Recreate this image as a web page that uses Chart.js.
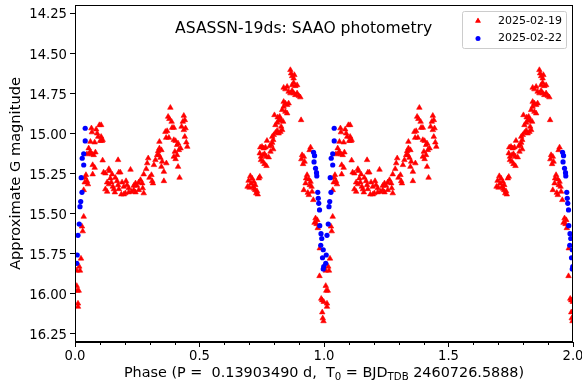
<!DOCTYPE html>
<html><head><meta charset="utf-8">
<script src="https://cdn.jsdelivr.net/npm/chart.js@4"></script>
<style>html,body{margin:0;padding:0;background:#fff;}canvas{display:block;}</style>
</head><body>
<canvas id="c" width="582" height="381"></canvas>
<script>
// Observations: [phase, approximate G magnitude]; each is plotted at phase and phase+1
const obs20250219 = [
 [0.035,15.519],[0.028,15.58],[0.031,15.61],[0.024,15.78],[0.017,15.83],[0.020,15.855],[0.007,15.855],[0.007,15.95],[0.015,15.98],[0.009,15.98],[0.012,16.06],[0.012,16.08],
 [0.066,14.968],[0.068,14.993],[0.085,14.975],[0.089,15.000],[0.098,14.948],[0.105,14.948],[0.093,15.021],[0.101,15.047],[0.105,15.021],[0.111,15.041],[0.108,15.047],[0.079,15.056],[0.062,15.052],[0.055,15.093],[0.062,15.114],[0.068,15.130],[0.075,15.135],[0.082,15.118],[0.048,15.130],[0.058,15.124],[0.111,15.168],[0.071,15.197],[0.079,15.214],[0.071,15.255],[0.044,15.259],[0.041,15.276],[0.048,15.297],[0.039,15.305],[0.052,15.317],[0.035,15.353],
 [0.115,15.243],[0.122,15.249],[0.136,15.222],[0.138,15.234],[0.149,15.255],[0.129,15.305],[0.136,15.317],[0.122,15.348],[0.129,15.363],[0.142,15.280],[0.146,15.305],[0.152,15.332],[0.156,15.348],[0.160,15.367],[0.162,15.276],[0.173,15.166],[0.176,15.243],[0.182,15.243],[0.169,15.297],[0.173,15.322],[0.176,15.347],[0.189,15.305],[0.196,15.332],[0.186,15.380],[0.196,15.380],[0.202,15.373],[0.205,15.297],[0.209,15.322],[0.216,15.342],[0.223,15.226],[0.216,15.367],[0.227,15.363],[0.236,15.353],[0.243,15.367],[0.249,15.326],[0.256,15.305],[0.263,15.290],[0.270,15.311],[0.272,15.342],[0.276,15.373],[0.243,15.311],[0.236,15.326],[0.256,15.353],
 [0.276,15.255],[0.286,15.222],[0.290,15.186],[0.294,15.155],[0.299,15.276],[0.307,15.259],[0.310,15.297],[0.313,15.311],[0.317,15.197],[0.323,15.166],[0.330,15.135],[0.334,15.110],[0.339,15.093],[0.347,15.104],[0.339,15.052],[0.337,15.135],[0.343,15.152],[0.350,15.176],[0.347,15.208],[0.357,15.239],[0.367,15.186],[0.357,15.297],[0.363,14.990],[0.370,14.985],[0.366,15.027],[0.377,15.027],[0.374,14.896],[0.379,14.910],[0.388,14.927],[0.390,14.965],[0.397,14.965],[0.383,14.840],[0.397,15.041],[0.404,15.047],[0.414,15.062],[0.410,15.072],[0.401,15.114],[0.417,15.104],[0.424,15.093],[0.410,15.135],[0.404,15.160],[0.397,15.145],[0.414,15.208],[0.420,15.276],[0.437,14.890],[0.441,14.917],[0.433,14.927],[0.428,14.958],[0.437,14.979],[0.444,14.968],[0.441,15.021],[0.447,15.056],[0.451,15.083],
 [0.704,15.266],[0.711,15.280],[0.697,15.295],[0.707,15.311],[0.718,15.301],[0.724,15.322],[0.738,15.280],[0.742,15.270],[0.693,15.332],[0.701,15.338],[0.715,15.332],[0.724,15.353],[0.728,15.373],[0.734,15.380],[0.731,15.360],[0.720,15.345],
 [0.744,15.087],[0.751,15.083],[0.758,15.093],[0.765,15.087],[0.742,15.124],[0.747,15.145],[0.755,15.135],[0.761,15.128],[0.769,15.145],[0.778,15.149],[0.747,15.166],[0.755,15.176],[0.761,15.191],[0.769,15.203],[0.771,15.046],[0.782,15.079],[0.788,15.072],[0.792,15.058],[0.796,15.041],[0.785,15.114],[0.796,15.099],[0.792,15.021],[0.798,15.010],[0.805,14.996],[0.812,14.983],[0.818,15.000],[0.825,14.990],[0.832,14.979],[0.805,14.948],[0.812,14.933],[0.818,14.921],[0.828,14.958],[0.801,14.886],[0.814,14.900],[0.822,14.896],[0.828,14.917],[0.836,14.927],[0.832,14.854],[0.838,14.834],[0.845,14.865],[0.852,14.875],[0.838,14.803],[0.845,14.813],[0.852,14.823],[0.858,14.813],[0.908,14.917],[0.838,14.715],[0.852,14.709],[0.845,14.725],[0.858,14.740],[0.865,14.750],[0.872,14.734],[0.878,14.750],[0.885,14.761],[0.892,14.750],[0.899,14.767],[0.905,14.775],[0.872,14.699],[0.878,14.684],[0.885,14.705],[0.892,14.699],[0.865,14.605],[0.868,14.626],[0.872,14.643],[0.878,14.657],[0.881,14.636],
 [0.946,15.087],[0.942,15.104],[0.912,15.135],[0.919,15.145],[0.909,15.161],[0.922,15.176],[0.916,15.191],[0.932,15.259],[0.928,15.280],[0.939,15.286],[0.946,15.301],[0.926,15.311],[0.943,15.322],[0.950,15.332],[0.919,15.353],[0.935,15.370],[0.952,15.363],[0.939,15.384],[0.957,15.415],[0.966,15.529],[0.973,15.540],[0.962,15.557],[0.970,15.565],[0.975,15.590],[0.983,15.716],[0.982,15.889],[0.989,16.030],[0.993,16.040],[0.999,16.050],[0.993,16.115],[0.995,16.152],[0.998,16.170]
];
const obs20250222 = [
 [0.958,15.118],[0.962,15.139],[0.960,15.178],[0.966,15.218],[0.970,15.245],[0.971,15.265],[0.975,15.367],[0.977,15.405],[0.979,15.436],[0.982,15.477],[0.983,15.575],[0.988,15.625],[0.991,15.655],[0.987,15.697],[0.997,15.725],[0.994,15.775],[0.999,15.830],[0.997,15.845],
 [0.007,15.810],[0.009,15.758],[0.012,15.635],[0.017,15.565],[0.020,15.457],[0.023,15.425],[0.028,15.367],[0.025,15.276],[0.035,15.197],[0.029,15.155],[0.035,15.127],[0.041,15.047],[0.041,14.968]
];
const seriesLabels = ['2025-02-19','2025-02-22'];
const xTicks = [0.0,0.5,1.0,1.5,2.0];
const xMinorTicks = [0.1,0.2,0.3,0.4,0.6,0.7,0.8,0.9,1.1,1.2,1.3,1.4,1.6,1.7,1.8,1.9];
const yTicks = [14.25,14.5,14.75,15.0,15.25,15.5,15.75,16.0,16.25];
const titleText = 'ASASSN-19ds: SAAO photometry';
const yTitle = 'Approximate G magnitude';

const FONT = '"DejaVu Sans", sans-serif';
function fold(obs){
  return obs.map(([p,m])=>({x:p,y:m})).concat(obs.map(([p,m])=>({x:p+1,y:m})));
}

const deco = {
  id:'deco',
  afterDraw(chart){
    const ctx = chart.ctx, a = chart.chartArea, xs = chart.scales.x;
    ctx.save();
    // frame
    ctx.strokeStyle = '#000'; ctx.lineWidth = 1;
    ctx.strokeRect(Math.round(a.left)+0.5, Math.round(a.top)+0.5, Math.round(a.right-a.left)-1, Math.round(a.bottom-a.top)-1);
    // minor ticks
    ctx.beginPath();
    xMinorTicks.forEach(v=>{
      const px = Math.round(xs.getPixelForValue(v))+0.5;
      ctx.moveTo(px, a.bottom); ctx.lineTo(px, a.bottom+3);
    });
    ctx.stroke();
    ctx.fillStyle = '#000';
    // title
    ctx.font = '15.6px ' + FONT;
    ctx.textAlign = 'center'; ctx.textBaseline = 'middle';
    ctx.fillText(titleText, a.left + 0.459*(a.right-a.left), 29);
    // y title
    ctx.save();
    ctx.translate(16, (a.top+a.bottom)/2);
    ctx.rotate(-Math.PI/2);
    ctx.font = '14.6px ' + FONT;
    ctx.fillText(yTitle, 0, 0);
    ctx.restore();
    // x title with subscripts
    const parts = [
      ['Phase (P =  0.13903490 d,  T', false],
      ['0', true],
      [' = BJD', false],
      ['TDB', true],
      [' 2460726.5888)', false]
    ];
    const big = '14.4px ' + FONT, small = '10.2px ' + FONT;
    let w = 0;
    parts.forEach(([t,s])=>{ ctx.font = s?small:big; w += ctx.measureText(t).width; });
    let x = (a.left+a.right)/2 - w/2;
    const base = 376.5;
    ctx.textAlign = 'left'; ctx.textBaseline = 'alphabetic';
    parts.forEach(([t,s])=>{
      ctx.font = s?small:big;
      ctx.fillText(t, x, s ? base+3 : base);
      x += ctx.measureText(t).width;
    });
    // legend
    const lx = 462, ly = 11, lw = 104, lh = 37;
    ctx.fillStyle = 'rgba(255,255,255,0.8)';
    ctx.strokeStyle = '#cccccc';
    ctx.beginPath();
    ctx.roundRect(lx+0.5, ly+0.5, lw, lh, 2);
    ctx.fill(); ctx.stroke();
    ctx.fillStyle = '#ff0000';
    Chart.helpers.drawPoint(ctx, {pointStyle:'triangle', radius:3.2, rotation:0, borderWidth:0}, 478, 21);
    ctx.fill();
    ctx.fillStyle = '#0000ff';
    ctx.beginPath(); ctx.arc(478, 38.5, 2.5, 0, Math.PI*2); ctx.fill();
    ctx.fillStyle = '#000';
    ctx.font = '11px ' + FONT;
    ctx.textBaseline = 'middle';
    ctx.fillText(seriesLabels[0], 498, 21);
    ctx.fillText(seriesLabels[1], 498, 38.5);
    ctx.restore();
  }
};

new Chart(document.getElementById('c'), {
  type:'scatter',
  data:{datasets:[
    {label:seriesLabels[0], data:fold(obs20250219), pointStyle:'triangle', pointRadius:3.2, pointBorderWidth:0.6,
     backgroundColor:'#ff0000', borderColor:'#ff0000', order:2},
    {label:seriesLabels[1], data:fold(obs20250222), pointStyle:'circle', pointRadius:2.6, pointBorderWidth:0,
     backgroundColor:'#0000ff', borderColor:'#0000ff', order:1}
  ]},
  options:{
    responsive:false, animation:false, devicePixelRatio:1,
    layout:{padding:{left:0,right:9,top:5,bottom:0}},
    plugins:{legend:{display:false}, tooltip:{enabled:false}, title:{display:false}},
    scales:{
      x:{type:'linear', min:0, max:2,
        afterBuildTicks:s=>{ s.ticks = xTicks.map(v=>({value:v})); },
        afterFit:s=>{ s.height = 39; s.paddingLeft = 0; s.paddingRight = 0; },
        grid:{display:true, drawOnChartArea:false, drawTicks:true, tickLength:5, tickColor:'#000', color:'#000'},
        border:{display:true, color:'#000', width:1},
        ticks:{color:'#000', font:{family:FONT, size:13.2}, padding:2, maxRotation:0, autoSkip:false,
          callback:v=>Number(v).toFixed(1)}
      },
      y:{type:'linear', reverse:true, min:14.2, max:16.3,
        afterBuildTicks:s=>{ s.ticks = yTicks.map(v=>({value:v})); },
        afterFit:s=>{ s.width = 75; s.paddingTop = 0; s.paddingBottom = 0; },
        grid:{display:true, drawOnChartArea:false, drawTicks:true, tickLength:5, tickColor:'#000', color:'#000'},
        border:{display:true, color:'#000', width:1},
        ticks:{color:'#000', font:{family:FONT, size:13.2}, padding:3, autoSkip:false, labelOffset:2,
          callback:v=>Number(v).toFixed(2)}
      }
    }
  },
  plugins:[deco]
});
</script>
</body></html>
